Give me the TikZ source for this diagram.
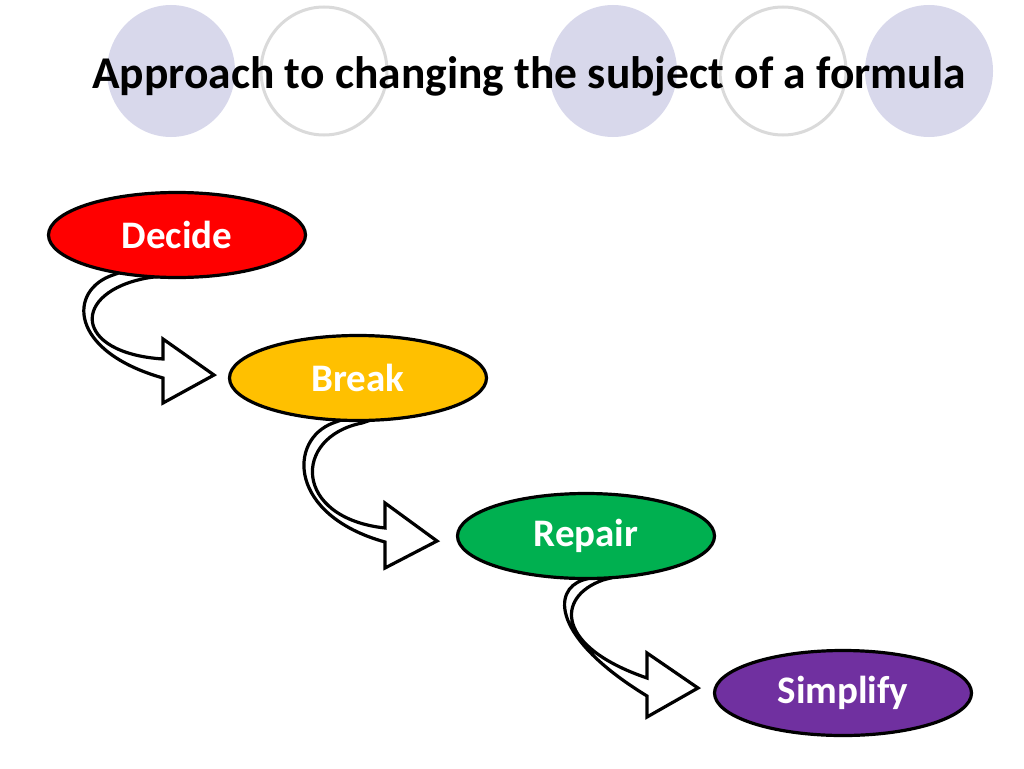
\documentclass[tikz,border=0pt]{standalone}
\usepackage{fontspec}
\setmainfont{Carlito}
\usetikzlibrary{shapes.geometric}
\definecolor{lav}{RGB}{216,216,235}
\definecolor{ringgray}{RGB}{218,218,218}
\definecolor{cred}{RGB}{255,0,0}
\definecolor{cyellow}{RGB}{255,192,0}
\definecolor{cgreen}{RGB}{0,176,80}
\definecolor{cpurple}{RGB}{112,48,160}
\tikzset{
  stepoval/.style={ellipse, draw=black, line width=3.2pt, minimum width=257pt, minimum height=85pt, inner sep=0pt,
    text=white, font=\fontsize{39}{44}\selectfont\bfseries},
  bandarrow/.style={draw=black, fill=white, line width=3.2pt, line join=miter},
  disc/.style={fill=lav},
  ring/.style={draw=ringgray, line width=3pt}
}
\begin{document}
\begin{tikzpicture}[x=1pt,y=-1pt]
\useasboundingbox (0,0) rectangle (1024,768);
% decorative circles
\fill[disc] (171,71) ellipse [x radius=64, y radius=66];
\draw[ring] (324,71) ellipse [x radius=63, y radius=64];
\fill[disc] (613,71) ellipse [x radius=64, y radius=66];
\draw[ring] (783,71) ellipse [x radius=63, y radius=64];
\fill[disc] (929,71) ellipse [x radius=64, y radius=66];
% title
\node[anchor=base, inner sep=0pt, font=\fontsize{45.5}{50}\selectfont\bfseries] (title) at (529,88) {Approach to changing the subject of a formula};
% curved arrows
\draw[bandarrow] (127,270) -- (113,275) .. controls (68,290) and (68,351) .. (163,378)
  -- (163,403) -- (214,375) -- (163,339) -- (163,359)
  .. controls (72,353) and (71,292) .. (147,278) -- (167,275) -- cycle;
\draw[bandarrow] (347,418) -- (333,423) .. controls (288,440) and (288,515) .. (385,542)
  -- (385,568) -- (437,541) -- (385,503) -- (385,528)
  .. controls (293,518) and (292,437) .. (362,423) -- (377,418) -- cycle;
\draw[bandarrow] (597,576) -- (583,580) .. controls (552,590) and (552,638) .. (647,696)
  -- (647,717) -- (698,688) -- (647,653) -- (647,678)
  .. controls (556,647) and (555,597) .. (603,580) -- (618,576) -- cycle;
% step ovals
\node[stepoval, fill=cred] (decide) at (177,235) {Decide};
\node[stepoval, fill=cyellow] (break) at (358,378) {Break};
\node[stepoval, fill=cgreen] (repair) at (586,536) {Repair};
\node[stepoval, fill=cpurple] (simplify) at (843,693) {Simplify};
\end{tikzpicture}
\end{document}
